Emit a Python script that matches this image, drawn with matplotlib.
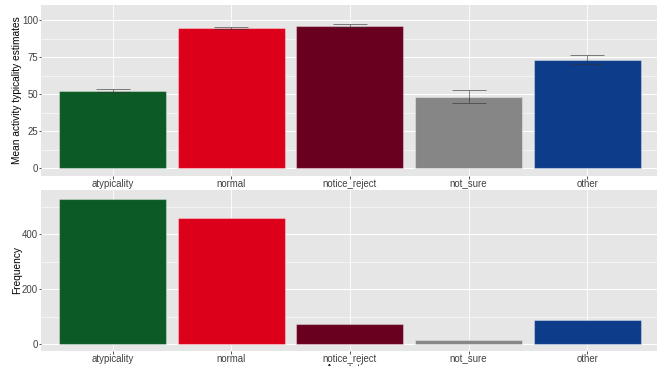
import numpy as np
import matplotlib
matplotlib.use("Agg")
import matplotlib.pyplot as plt
from matplotlib.ticker import MultipleLocator

plt.rcParams['font.family'] = ['Liberation Sans', 'DejaVu Sans']

# Annotation categories and summary values
categories = ["atypicality", "normal", "notice_reject", "not_sure", "other"]
mean_typicality = [52.1, 94.4, 95.9, 48.1, 73.0]
err_low = [51.2, 93.7, 95.3, 43.8, 70.1]
err_high = [53.7, 95.0, 97.1, 52.6, 76.2]
frequency = [530, 459, 72, 14, 88]
bar_colors = ["#0C5A24", "#DC001A", "#6A001F", "#868686", "#0C3C8A"]

W, H = 657, 366
fig = plt.figure(figsize=(W / 100, H / 100), dpi=100)

def px_axes(x0, y0, x1, y1):
    return fig.add_axes([x0 / W, 1 - y1 / H, (x1 - x0) / W, (y1 - y0) / H])

def gg_style(ax, major, minor):
    ax.set_facecolor("#E6E6E6")
    for s in ax.spines.values():
        s.set_visible(False)
    ax.yaxis.set_major_locator(MultipleLocator(major))
    ax.yaxis.set_minor_locator(MultipleLocator(minor))
    ax.grid(which="major", axis="y", color="white", linewidth=0.8)
    ax.grid(which="major", axis="x", color="white", linewidth=0.6)
    ax.grid(which="minor", axis="y", color="white", linewidth=0.4)
    ax.set_axisbelow(True)
    ax.tick_params(which="major", length=1.8, width=0.6, color="#333333",
                   labelsize=6.9, labelcolor="#404040", pad=1.2)
    ax.tick_params(axis="y", pad=0.6)
    ax.tick_params(axis="x", pad=0.6)
    ax.tick_params(which="minor", length=0)
    ax.set_xlim(-0.6, 4.6)

x = np.arange(len(categories))

# top panel: mean typicality with error bars
ax1 = px_axes(41.3, 4.7, 658.5, 175.7)
gg_style(ax1, 25, 12.5)
ax1.bar(x, mean_typicality, width=0.9, color=bar_colors,
        edgecolor=(1, 1, 1, 0.35), linewidth=0.8)
mt = np.array(mean_typicality)
ax1.errorbar(x, mt, yerr=[mt - np.array(err_low), np.array(err_high) - mt],
             fmt="none", ecolor=(0.2, 0.2, 0.2, 0.7), elinewidth=0.6,
             capsize=12, capthick=0.6)
ax1.set_ylim(-5.0, 110.3)
ax1.set_xticks(x)
ax1.set_xticklabels(categories)
ax1.set_ylabel("Mean activity typicality estimates", fontsize=7.3, va="center")
ax1.yaxis.set_label_coords(-0.0395, 0.5)

# bottom panel: annotation counts
ax2 = px_axes(41.3, 190, 658.5, 351)
gg_style(ax2, 200, 100)
ax2.bar(x, frequency, width=0.9, color=bar_colors,
        edgecolor=(1, 1, 1, 0.35), linewidth=0.8)
ax2.set_ylim(-25.5, 562)
ax2.set_xticks(x)
ax2.set_xticklabels(categories)
ax2.set_ylabel("Frequency", fontsize=7.3, va="center")
ax2.yaxis.set_label_coords(-0.0395, 0.5)
ax2.set_xlabel("Annotation", fontsize=7.3, labelpad=-0.5)

fig.savefig("out.png", dpi=100)
